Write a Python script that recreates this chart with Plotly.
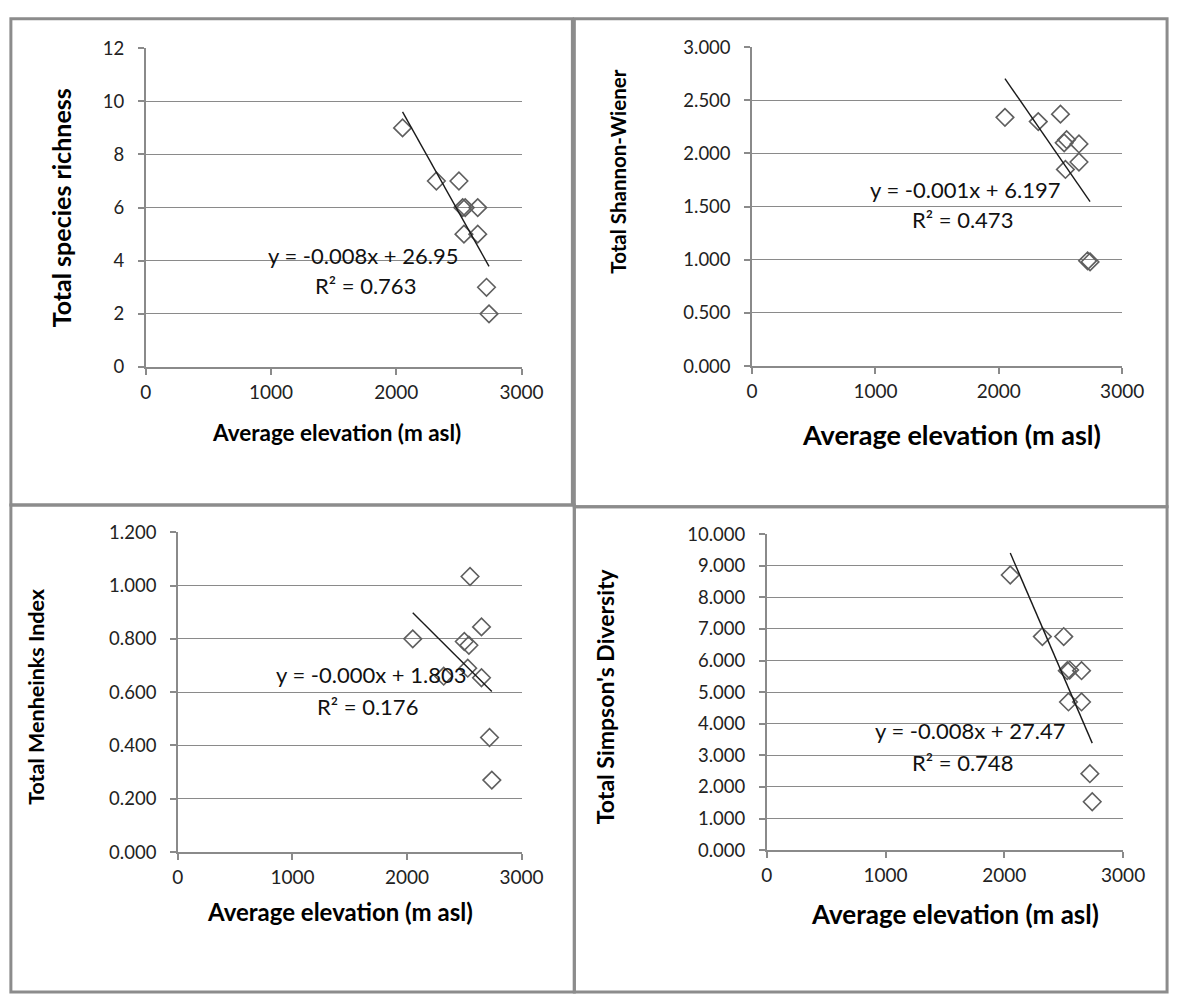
import numpy as np
import plotly.graph_objects as go

# ---- data ----
elevation = [2050, 2320, 2500, 2530, 2550, 2540, 2650, 2650, 2720, 2740]
richness = [9, 7, 7, 6, 6, 5, 6, 5, 3, 2]
shannon = [2.34, 2.30, 2.37, 2.10, 2.13, 1.85, 2.09, 1.92, 0.99, 0.98]
menhinick = [0.80, 0.66, 0.79, 0.69, 1.034, 0.776, 0.845, 0.654, 0.43, 0.27]
simpson = [8.71, 6.76, 6.76, 5.68, 5.70, 4.69, 5.68, 4.69, 2.42, 1.53]

y_titles = ["Total species richness", "Total Shannon-Wiener",
            "Total Menheinks Index", "Total Simpson's Diversity"]
x_title = "Average elevation (m asl)"
equations = ["y = -0.008x + 26.95", "y = -0.001x + 6.197",
             "y = -0.000x + 1.803", "y = -0.008x + 27.47"]
r2_texts = ["R² = 0.763", "R² = 0.473", "R² = 0.176", "R² = 0.748"]
x_ticks = [0, 1000, 2000, 3000]
y_ranges = [(0, 12, 2, ""), (0, 3, 0.5, ".3f"), (0, 1.2, 0.2, ".3f"), (0, 10, 1, ".3f")]
series = [richness, shannon, menhinick, simpson]

W, H = 1192, 998
def px(x):
    return x / W
def py(y):
    return 1 - y / H

# plot-area boxes in pixels (left, right, top, bottom)
boxes = [(143, 528, 37, 363), (764, 1143, 36, 362),
         (176, 528, 532, 859), (779, 1144, 534, 857)]
# label positions (pixels)
eq_pos = [(366, 249), (982, 181), (374, 677), (987, 735)]
r2_pos = [(368, 280), (979, 212), (370, 710), (980, 767)]
ytitle_pos = [(56, 200), (627, 163), (30, 700), (613, 700)]
ytitle_size = [25, 20.5, 21.5, 23]
xtitle_pos = [(338, 430), (968, 432), (342, 920), (972, 922)]
xtitle_size = [22.5, 27, 24, 26]
panels = [(5, 580, 7, 504), (582, 1189, 7, 506), (5, 582, 504, 1002), (582, 1189, 506, 1002)]

FONT = "Lato"
GRID = "#8a8a8a"
fig = go.Figure()
annotations = []
shapes = []

for i in range(4):
    xa = "x" if i == 0 else f"x{i+1}"
    ya = "y" if i == 0 else f"y{i+1}"
    vals = series[i]
    fig.add_trace(go.Scatter(
        x=elevation, y=vals, mode="markers", xaxis=xa, yaxis=ya,
        marker=dict(symbol="diamond-open", size=13.5, color="#5f5f5f",
                    line=dict(width=1.6, color="#5f5f5f")),
        showlegend=False, hoverinfo="skip"))
    slope, icpt = np.polyfit(elevation, vals, 1)
    xs = np.array([min(elevation), max(elevation)])
    fig.add_trace(go.Scatter(
        x=xs, y=slope * xs + icpt, mode="lines", xaxis=xa, yaxis=ya,
        line=dict(color="#1a1a1a", width=1.4), showlegend=False, hoverinfo="skip"))

    l, r, t, b = boxes[i]
    y0, y1, dt, fmt = y_ranges[i]
    xkey = "xaxis" if i == 0 else f"xaxis{i+1}"
    ykey = "yaxis" if i == 0 else f"yaxis{i+1}"
    fig.update_layout(**{
        xkey: dict(domain=[px(l), px(r)], range=[0, 3000], anchor=ya,
                   tickvals=x_ticks, showgrid=False, zeroline=False,
                   showline=True, linecolor=GRID, linewidth=1.5,
                   ticks="outside", ticklen=6, tickcolor=GRID, tickwidth=1.5,
                   ticklabelstandoff=1,
                   tickfont=dict(family=FONT, size=19, color="#222222")),
        ykey: dict(domain=[py(b), py(t)], range=[y0, y1], dtick=dt, tick0=0,
                   tickformat=fmt, anchor=xa, showgrid=True, gridcolor=GRID,
                   gridwidth=1.4, zeroline=False, showline=True, linecolor=GRID,
                   linewidth=1.5, ticks="outside", ticklen=6, tickcolor=GRID,
                   tickwidth=1.5, ticklabelstandoff=10,
                   tickfont=dict(family=FONT, size=18.5, color="#222222")),
    })
    common = dict(xref="paper", yref="paper", showarrow=False,
                  xanchor="center", yanchor="middle")
    annotations.append(dict(text=equations[i], x=px(eq_pos[i][0]), y=py(eq_pos[i][1]),
                            font=dict(family=FONT, size=22, color="#111111"), **common))
    annotations.append(dict(text=r2_texts[i], x=px(r2_pos[i][0]), y=py(r2_pos[i][1]),
                            font=dict(family=FONT, size=22, color="#111111"), **common))
    annotations.append(dict(text=y_titles[i], x=px(ytitle_pos[i][0]), y=py(ytitle_pos[i][1]),
                            textangle=-90,
                            font=dict(family=FONT, size=ytitle_size[i], color="#000000",
                                      weight="bold"),
                            **common))
    annotations.append(dict(text=x_title, x=px(xtitle_pos[i][0]), y=py(xtitle_pos[i][1]),
                            font=dict(family=FONT, size=xtitle_size[i], color="#000000",
                                      weight="bold"),
                            **common))
    pl, pr, pt, pb = panels[i]
    shapes.append(dict(type="rect", xref="paper", yref="paper",
                       x0=px(pl), x1=px(pr), y0=py(pb), y1=py(pt),
                       line=dict(color="#8c8c8c", width=3)))

fig.update_layout(width=W, height=H, margin=dict(l=0, r=0, t=0, b=0),
                  paper_bgcolor="white", plot_bgcolor="white",
                  annotations=annotations, shapes=shapes)
fig.write_html("out.html", config={"displayModeBar": False},
               post_script="document.body.style.margin='0';")
